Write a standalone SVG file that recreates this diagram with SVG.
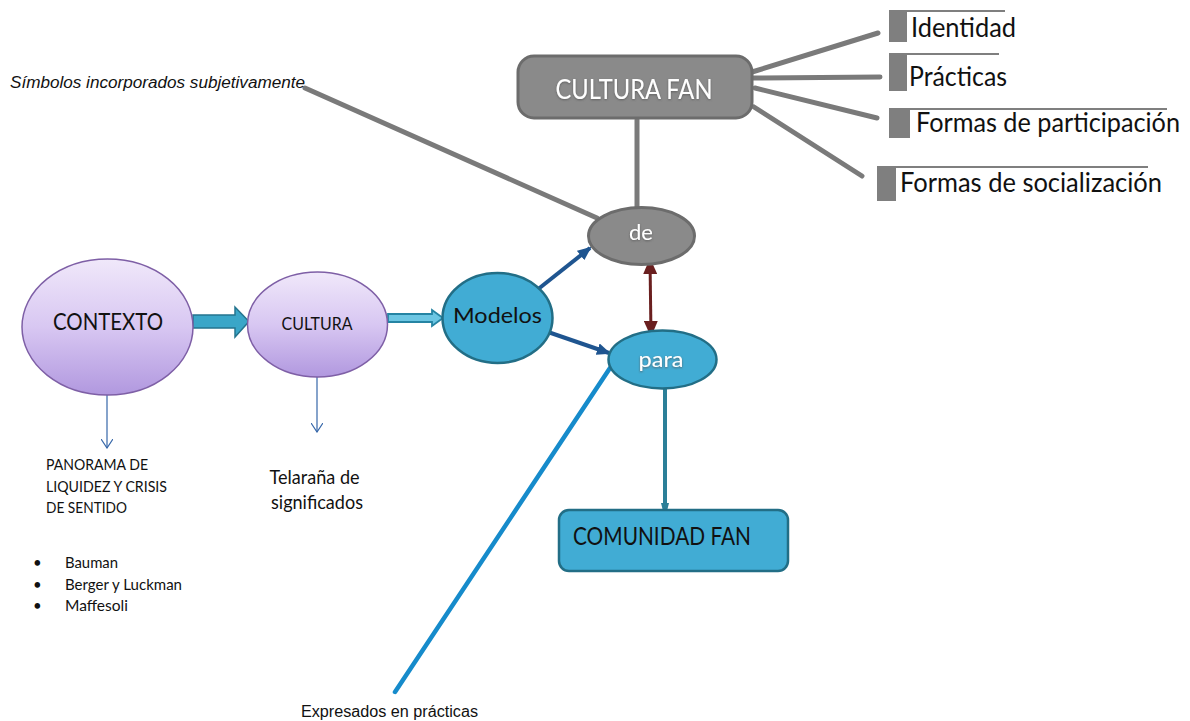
<svg xmlns="http://www.w3.org/2000/svg" width="1190" height="721" viewBox="0 0 1190 721">
  <style>
    .cal { font-family: Lato, "Noto Sans", "Liberation Sans", sans-serif; }
    .ari { font-family: "Liberation Sans", Arial, sans-serif; }
    .dark { fill: #111; }
    .light { fill: #fff; }
    .gray-line { stroke: #7a7a7a; stroke-width: 5; stroke-linecap: round; fill: none; }
    .purple { fill: url(#purpleGrad); stroke: #7e5fa6; stroke-width: 1.5; }
    .cyan { fill: #41acd4; stroke: #226e86; stroke-width: 2.5; }
    .grayfill { fill: #8a8a8a; stroke: #6c6c6c; stroke-width: 3; }
    .bar { fill: #7f7f7f; }
    .rule { stroke: #7f7f7f; stroke-width: 2; }
  </style>
  <defs>
    <linearGradient id="purpleGrad" x1="0" y1="0" x2="0" y2="1">
      <stop offset="0" stop-color="#f0e8fa"/>
      <stop offset="0.5" stop-color="#d8c7f2"/>
      <stop offset="1" stop-color="#b198df"/>
    </linearGradient>
    <filter id="glow" x="-20%" y="-20%" width="140%" height="140%">
      <feGaussianBlur in="SourceAlpha" stdDeviation="0.8"/>
      <feOffset dx="0" dy="0.5" result="b"/>
      <feFlood flood-color="#555" flood-opacity="0.8"/>
      <feComposite in2="b" operator="in"/>
      <feMerge><feMergeNode/><feMergeNode in="SourceGraphic"/></feMerge>
    </filter>
    <marker id="headBlue" viewBox="0 0 14 12" refX="12" refY="6" markerWidth="14" markerHeight="12" markerUnits="userSpaceOnUse" orient="auto">
      <path d="M0,0 L14,6 L0,12 z" fill="#1f5590"/>
    </marker>
    <marker id="headRed" viewBox="0 0 16 14" refX="15" refY="7" markerWidth="16" markerHeight="14" markerUnits="userSpaceOnUse" orient="auto-start-reverse">
      <path d="M0,0 L16,7 L0,14 z" fill="#6a1f1f"/>
    </marker>
    <marker id="headTeal" viewBox="0 0 8 10" refX="7" refY="5" markerWidth="8" markerHeight="10" markerUnits="userSpaceOnUse" orient="auto">
      <path d="M0,1 L8,3 L8,7 L0,9 z" fill="#2b7f98"/>
    </marker>
    <marker id="headOpen" viewBox="0 0 10 12" refX="9" refY="6" markerWidth="10" markerHeight="12" markerUnits="userSpaceOnUse" orient="auto">
      <path d="M0,0 L9,6 L0,12" fill="none" stroke="#3566a8" stroke-width="1.2"/>
    </marker>
  </defs>

  <rect width="1190" height="721" fill="#fff"/>

  <!-- connectors -->
  <g id="connectors">
    <line class="gray-line" x1="305" y1="88" x2="597" y2="218"/>
    <line class="gray-line" x1="637" y1="120" x2="637" y2="207"/>
    <line class="gray-line" x1="752" y1="72" x2="878" y2="33"/>
    <line class="gray-line" x1="753" y1="78" x2="880" y2="77"/>
    <line class="gray-line" x1="755" y1="88" x2="877" y2="118"/>
    <line class="gray-line" x1="754" y1="107" x2="862" y2="176"/>

    <!-- CONTEXTO to CULTURA block arrow -->
    <polygon points="193,315 235,315 235,307 249,321.5 235,337 235,328 193,328" fill="#3aa6c8" stroke="#24748e" stroke-width="1.5"/>
    <!-- CULTURA to Modelos outlined arrow -->
    <polygon points="388,314 432,314 432,310 443,318 432,326 432,322 388,322" fill="#6cc6e3" stroke="#2584a3" stroke-width="1.8"/>

    <line x1="537" y1="290" x2="590" y2="248" stroke="#1f5590" stroke-width="4" marker-end="url(#headBlue)"/>
    <line x1="548" y1="332" x2="609" y2="353" stroke="#1f5590" stroke-width="4" marker-end="url(#headBlue)"/>

    <line x1="650" y1="259" x2="651" y2="336" stroke="#6a1f1f" stroke-width="3" marker-start="url(#headRed)" marker-end="url(#headRed)"/>

    <line x1="665" y1="389" x2="665" y2="510" stroke="#2b7f98" stroke-width="4" marker-end="url(#headTeal)"/>

    <line x1="610" y1="368" x2="395" y2="692" stroke="#168bcb" stroke-width="4.5" stroke-linecap="round"/>

    <line x1="107" y1="395" x2="107" y2="448" stroke="#3566a8" stroke-width="1.2" marker-end="url(#headOpen)"/>
    <line x1="317" y1="377" x2="317" y2="432" stroke="#3566a8" stroke-width="1.2" marker-end="url(#headOpen)"/>
  </g>

  <!-- nodes -->
  <g id="cultura-fan">
    <rect class="grayfill" x="518" y="56" width="234" height="62" rx="16"/>
    <text class="cal light" x="634" y="99" font-size="27" text-anchor="middle" textLength="157" lengthAdjust="spacingAndGlyphs" filter="url(#glow)">CULTURA FAN</text>
  </g>

  <g id="identidad">
    <rect class="bar" x="889" y="10" width="18" height="32"/>
    <line class="rule" x1="907" y1="11" x2="1005" y2="11"/>
    <text class="cal dark" x="911" y="37" font-size="26" textLength="105" lengthAdjust="spacingAndGlyphs">Identidad</text>
  </g>

  <g id="practicas">
    <rect class="bar" x="889" y="53" width="18" height="38"/>
    <line class="rule" x1="907" y1="54" x2="999" y2="54"/>
    <text class="cal dark" x="909" y="86" font-size="26" textLength="98" lengthAdjust="spacingAndGlyphs">Prácticas</text>
  </g>

  <g id="participacion">
    <rect class="bar" x="889" y="108" width="21" height="30"/>
    <line class="rule" x1="910" y1="109" x2="1167" y2="109"/>
    <text class="cal dark" x="916" y="132" font-size="26" textLength="264" lengthAdjust="spacingAndGlyphs">Formas de participación</text>
  </g>

  <g id="socializacion">
    <rect class="bar" x="877" y="166" width="19" height="35"/>
    <line class="rule" x1="896" y1="167" x2="1148" y2="167"/>
    <text class="cal dark" x="900" y="192" font-size="26" textLength="262" lengthAdjust="spacingAndGlyphs">Formas de socialización</text>
  </g>

  <g id="simbolos">
    <text class="ari" x="10" y="88" font-size="16" font-style="italic" fill="#111" textLength="295" lengthAdjust="spacingAndGlyphs">Símbolos incorporados subjetivamente</text>
  </g>

  <g id="de">
    <ellipse class="grayfill" cx="641.5" cy="236" rx="53" ry="28.5" stroke-width="2.5"/>
    <text class="cal light" x="641" y="240" font-size="21" text-anchor="middle" textLength="24" lengthAdjust="spacingAndGlyphs" filter="url(#glow)">de</text>
  </g>

  <g id="contexto">
    <ellipse class="purple" cx="107.5" cy="327" rx="85.5" ry="68"/>
    <text class="cal dark" x="108" y="330" font-size="23" text-anchor="middle" textLength="110" lengthAdjust="spacingAndGlyphs">CONTEXTO</text>
  </g>

  <g id="cultura">
    <ellipse class="purple" cx="317.5" cy="324.5" rx="70" ry="52.5"/>
    <text class="cal dark" x="317" y="330" font-size="17" text-anchor="middle" textLength="71" lengthAdjust="spacingAndGlyphs">CULTURA</text>
  </g>

  <g id="modelos">
    <ellipse class="cyan" cx="497.5" cy="318" rx="55" ry="45"/>
    <text class="cal dark" x="497.5" y="323" font-size="22" text-anchor="middle" textLength="89" lengthAdjust="spacingAndGlyphs">Modelos</text>
  </g>

  <g id="para">
    <ellipse class="cyan" cx="662.5" cy="359.5" rx="54" ry="29"/>
    <text class="cal light" x="661" y="367" font-size="21" text-anchor="middle" textLength="45" lengthAdjust="spacingAndGlyphs" filter="url(#glow)">para</text>
  </g>

  <g id="comunidad-fan">
    <rect class="cyan" x="559" y="510" width="229" height="61" rx="10"/>
    <text class="cal dark" x="573" y="545" font-size="25" textLength="178" lengthAdjust="spacingAndGlyphs">COMUNIDAD FAN</text>
  </g>

  <g id="panorama">
    <text class="cal dark" font-size="15">
      <tspan x="46" y="470" textLength="102" lengthAdjust="spacingAndGlyphs">PANORAMA DE</tspan>
      <tspan x="46" y="492" textLength="121" lengthAdjust="spacingAndGlyphs">LIQUIDEZ Y CRISIS</tspan>
      <tspan x="46" y="513" textLength="81" lengthAdjust="spacingAndGlyphs">DE SENTIDO</tspan>
    </text>
  </g>

  <g id="autores">
    <text class="cal dark" font-size="15">
      <tspan x="33" y="568">•</tspan>
      <tspan x="65" y="568" textLength="53" lengthAdjust="spacingAndGlyphs">Bauman</tspan>
      <tspan x="33" y="590">•</tspan>
      <tspan x="65" y="590" textLength="117" lengthAdjust="spacingAndGlyphs">Berger y Luckman</tspan>
      <tspan x="33" y="611">•</tspan>
      <tspan x="65" y="611" textLength="63" lengthAdjust="spacingAndGlyphs">Maffesoli</tspan>
    </text>
  </g>

  <g id="telarana">
    <text class="cal dark" font-size="19" text-anchor="middle">
      <tspan x="317" y="484" textLength="90" lengthAdjust="spacingAndGlyphs">Telaraña de</tspan>
      <tspan x="317" y="509" textLength="92" lengthAdjust="spacingAndGlyphs">significados</tspan>
    </text>
  </g>

  <g id="expresados">
    <text class="ari" x="301" y="717" font-size="16" fill="#111" textLength="177" lengthAdjust="spacingAndGlyphs">Expresados en prácticas</text>
  </g>
</svg>
